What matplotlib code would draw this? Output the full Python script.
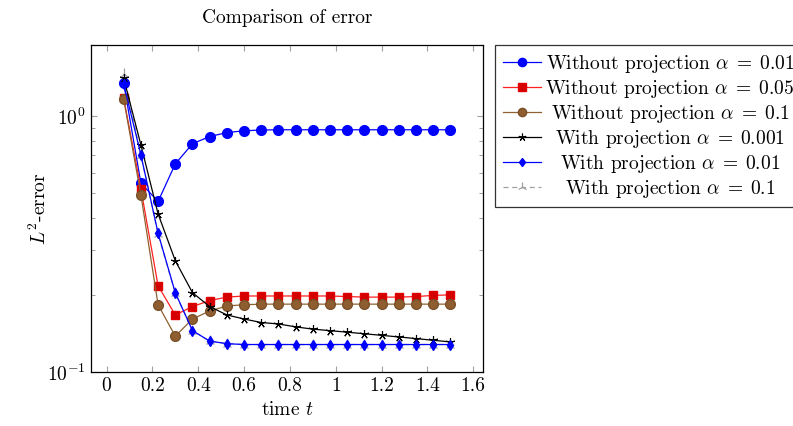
import numpy as np
import matplotlib
matplotlib.use("Agg")
import matplotlib.pyplot as plt
from matplotlib.ticker import FuncFormatter, LogLocator, NullFormatter

plt.rcParams['font.family'] = ['cmr10', 'DejaVu Serif']
plt.rcParams['mathtext.fontset'] = 'cm'
plt.rcParams['axes.unicode_minus'] = False
plt.rcParams['axes.formatter.use_mathtext'] = True

# time steps
t = [0.075, 0.15, 0.225, 0.3, 0.375, 0.45, 0.525, 0.6, 0.675, 0.75,
     0.825, 0.9, 0.975, 1.05, 1.125, 1.2, 1.275, 1.35, 1.425, 1.5]

wo_001 = [1.34, 0.546, 0.463, 0.649, 0.778, 0.83, 0.86, 0.874, 0.88, 0.882,
          0.882, 0.882, 0.882, 0.882, 0.882, 0.882, 0.882, 0.882, 0.882, 0.882]
wo_005 = [1.17, 0.519, 0.217, 0.167, 0.18, 0.19, 0.196, 0.198, 0.198, 0.198,
          0.198, 0.198, 0.198, 0.197, 0.196, 0.196, 0.196, 0.197, 0.199, 0.2]
wo_01 = [1.16, 0.491, 0.183, 0.138, 0.161, 0.173, 0.181, 0.183, 0.184, 0.184,
         0.184, 0.184, 0.184, 0.184, 0.184, 0.184, 0.184, 0.184, 0.184, 0.184]
w_0001 = [1.40, 0.77, 0.414, 0.272, 0.204, 0.18, 0.167, 0.161, 0.156, 0.154,
          0.150, 0.147, 0.145, 0.143, 0.141, 0.139, 0.137, 0.135, 0.133, 0.131]
w_001 = [1.33, 0.704, 0.348, 0.204, 0.145, 0.132, 0.129, 0.128, 0.128, 0.128,
         0.128, 0.128, 0.128, 0.128, 0.128, 0.128, 0.128, 0.128, 0.128, 0.128]
w_01 = [1.46, 0.70, 0.345, 0.203, 0.145, 0.132, 0.129, 0.128, 0.128, 0.128,
        0.128, 0.128, 0.128, 0.128, 0.128, 0.128, 0.128, 0.128, 0.128, 0.128]

fs = 14

fig = plt.figure(figsize=(7.93, 4.26), dpi=100)
ax = fig.add_axes([0.1148, 0.1268, 0.4943, 0.7676])

lw = 0.9
ax.plot(t, wo_001, color='#0000ff', lw=lw, marker='o', ms=7,
        mec='#0000ff', mfc='#0000ff', label=r'Without projection $\alpha\;=\;0.01$', zorder=3)
ax.plot(t, wo_005, color='#ff2020', lw=lw, marker='s', ms=6.3,
        mec='#e00000', mfc='#d40000', label=r'Without projection $\alpha\;=\;0.05$', zorder=3)
ax.plot(t, wo_01, color='#8f6030', lw=lw, marker='o', ms=7,
        mec='#7a5028', mfc='#8f5e30', label=r'Without projection $\alpha\;=\;0.1$', zorder=3)
ax.plot(t, w_0001, color='black', lw=lw, marker=(5, 2, 0), ms=6.5,
        mew=0.8, label=r'With projection $\alpha\;=\;0.001$', zorder=3)
ax.plot(t, w_001, color='#0000ff', lw=lw, marker='d', ms=5,
        mec='#0000ff', mfc='#0000ff', label=r'With projection $\alpha\;=\;0.01$', zorder=3)
ax.plot(t, w_01, color='#a0a0a0', lw=lw, ls=(0, (4, 3)), marker='2', ms=8,
        mew=0.9, label=r'With projection $\alpha\;=\;0.1$', zorder=2)

ax.set_yscale('log')
ax.set_xlim(-0.0675, 1.6425)
ax.set_ylim(0.1, 1.89)
ax.set_xticks([0, 0.2, 0.4, 0.6, 0.8, 1.0, 1.2, 1.4, 1.6])
ax.xaxis.set_major_formatter(FuncFormatter(lambda v, p: '%g' % v))
ax.yaxis.set_major_locator(LogLocator(base=10))
ax.yaxis.set_minor_locator(LogLocator(base=10, subs=np.arange(2, 10)))
ax.yaxis.set_minor_formatter(NullFormatter())

ax.tick_params(which='both', direction='in', top=True, right=True,
               color='#a0a0a0', labelsize=fs)
ax.tick_params(which='major', length=4.5, width=0.8, pad=4)
ax.tick_params(which='minor', length=2.8, width=0.7)
for s in ax.spines.values():
    s.set_linewidth(0.9)

ax.set_title('Comparison of error', fontsize=fs, pad=16)
ax.set_xlabel(r'time $t$', fontsize=fs, labelpad=4)
ax.set_ylabel(r'$L^2$-error', fontsize=fs, labelpad=-2)

leg = ax.legend(loc='upper left', bbox_to_anchor=(0.624, 0.894),
                bbox_transform=fig.transFigure, fontsize=fs,
                frameon=True, fancybox=False, edgecolor='black',
                handlelength=2.0, handletextpad=0.2, labelspacing=0.15,
                borderpad=0.4, borderaxespad=0, markerscale=0.85)
leg.get_frame().set_linewidth(0.9)

# centre the legend texts in their column, like pgfplots does
fig.canvas.draw()
r = fig.canvas.get_renderer()
texts = leg.get_texts()
widths = [tx.get_window_extent(r).width for tx in texts]
wmax = max(widths)
for tx, w in zip(texts, widths):
    tx.set_x((wmax - w) / 2)

fig.savefig('out.png', dpi=100)
